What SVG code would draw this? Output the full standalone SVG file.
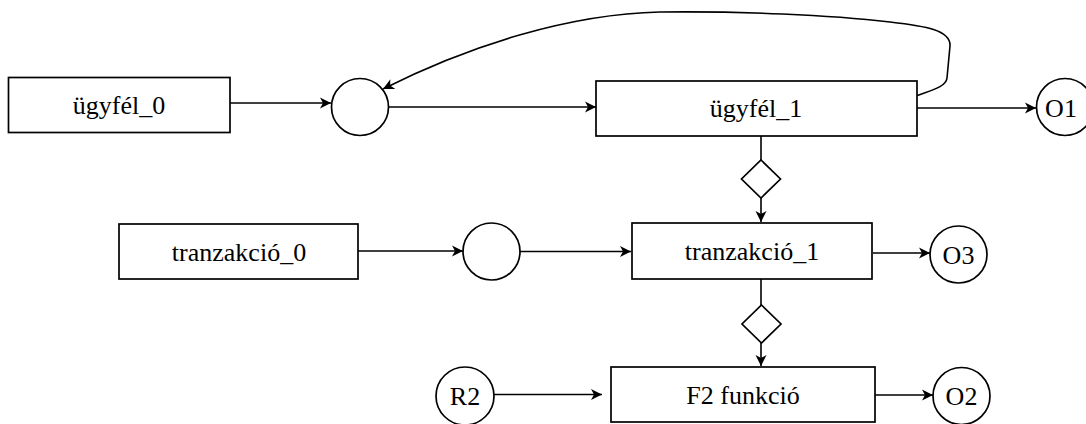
<svg xmlns="http://www.w3.org/2000/svg" width="1086" height="424" viewBox="0 0 1086 424">
<style>
.box{fill:#fff;stroke:#000;stroke-width:1.7}
.lbl{font-family:'Liberation Serif','Times New Roman',serif;font-size:26px;fill:#000;text-anchor:middle}
.edge{fill:none;stroke:#000;stroke-width:1.6}
</style>
<defs>
<marker id="arr" markerUnits="userSpaceOnUse" markerWidth="12" markerHeight="12" refX="11" refY="6" orient="auto">
<path d="M0,0.5 L11,6 L0,11.5 L3,6 Z" fill="#000"/>
</marker>
</defs>
<rect width="1086" height="424" fill="#fff"/>
<g id="connectors">
<path class="edge" d="M230,103 L331,103" marker-end="url(#arr)"/>
<path class="edge" d="M389,107 L596,107" marker-end="url(#arr)"/>
<path class="edge" d="M917,108 L1036,108" marker-end="url(#arr)"/>
<path class="edge" d="M916,96 C932,90 946,87 947,78 L950,46 C951,30 925,26 890,22 C830,15 740,11 660,12 C570,14 470,45 383,89" marker-end="url(#arr)"/>
<path class="edge" d="M761,136 L761,160"/>
<path class="edge" d="M761,198 L761,222" marker-end="url(#arr)"/>
<path class="edge" d="M358,251 L463,251" marker-end="url(#arr)"/>
<path class="edge" d="M520,251.5 L631,251.5" marker-end="url(#arr)"/>
<path class="edge" d="M873,253 L930,253" marker-end="url(#arr)"/>
<path class="edge" d="M761,279 L761,305"/>
<path class="edge" d="M761,343 L761,366" marker-end="url(#arr)"/>
<path class="edge" d="M494,394.5 L602,394.5" marker-end="url(#arr)"/>
<path class="edge" d="M875,395 L933,395" marker-end="url(#arr)"/>
</g>
<g id="ugyfel0"><rect class="box" x="8.5" y="77.5" width="221.5" height="55"/><text class="lbl" x="119" y="113.5">ügyfél_0</text></g>
<g id="join1"><circle class="box" cx="360" cy="107" r="28.5"/></g>
<g id="ugyfel1"><rect class="box" x="596" y="81" width="321" height="55"/><text class="lbl" x="756" y="117">ügyfél_1</text></g>
<g id="o1"><circle class="box" cx="1065" cy="107" r="28.5"/><text class="lbl" x="1061" y="116.5">O1</text></g>
<g id="diamond1"><path class="box" d="M761,160 L780.5,179 L761,198 L741.5,179 Z"/></g>
<g id="tranzakcio0"><rect class="box" x="119" y="224" width="239" height="55"/><text class="lbl" x="239" y="261">tranzakció_0</text></g>
<g id="join2"><circle class="box" cx="491.5" cy="251.5" r="28.5"/></g>
<g id="tranzakcio1"><rect class="box" x="632" y="223" width="240" height="56"/><text class="lbl" x="752" y="259.5">tranzakció_1</text></g>
<g id="o3"><circle class="box" cx="958.5" cy="254.5" r="28.5"/><text class="lbl" x="958.5" y="263.5">O3</text></g>
<g id="diamond2"><path class="box" d="M761.5,305 L781,324 L761.5,343 L742,324 Z"/></g>
<g id="r2"><circle class="box" cx="465" cy="396" r="29"/><text class="lbl" x="465" y="405">R2</text></g>
<g id="f2"><rect class="box" x="611" y="367" width="264" height="55"/><text class="lbl" x="743" y="403.5">F2 funkció</text></g>
<g id="o2"><circle class="box" cx="961.5" cy="396" r="28.5"/><text class="lbl" x="961.5" y="405">O2</text></g>
</svg>
